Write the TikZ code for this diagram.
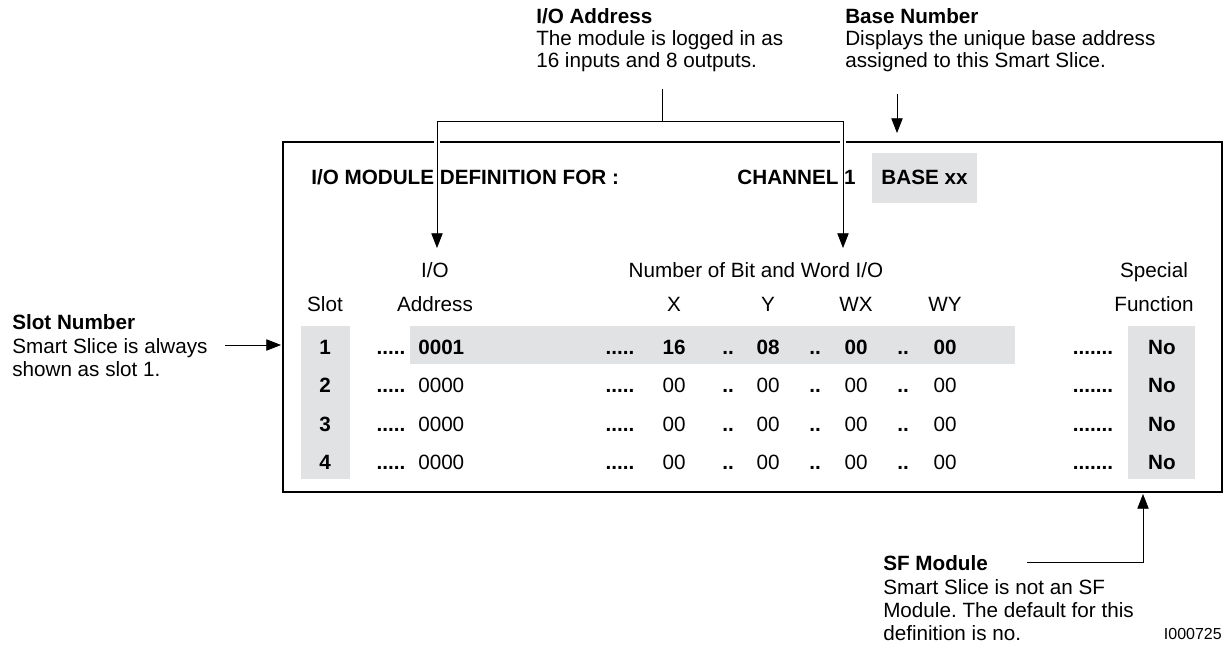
\documentclass[tikz,border=0pt]{standalone}
\usepackage{fontspec}
\setmainfont{Liberation Sans}
\usetikzlibrary{arrows.meta}
\definecolor{panelgray}{HTML}{E1E2E4}
\frenchspacing

\begin{document}
\begin{tikzpicture}[
  x=0.75pt, y=-0.75pt,
  every node/.style={inner sep=0pt, anchor=base, font=\fontsize{15.5}{17.5}\selectfont},
  value/.style={font=\fontsize{15.5}{17.5}\selectfont\bfseries},
  note/.style={anchor=north west, align=left},
  topnote/.style={note, font=\fontsize{15.5}{16.5}\selectfont},
  pointer/.style={-{Triangle[length=11pt, width=8.5pt]}, line width=0.6pt},
  frame/.style={line width=2pt},
  halo/.style={white, line width=4.5pt}
]
\useasboundingbox[fill=white] (0,0) rectangle (1232,645);

% shaded fields
\fill[panelgray] (872,153) rectangle (977,203);
\fill[panelgray] (301,326) rectangle (350,479);
\fill[panelgray] (410,326) rectangle (1015,364);
\fill[panelgray] (1128,326) rectangle (1195,479);

% screen frame
\draw[frame] (283,142) rectangle (1222,492);
\coordinate (slottip) at (281,345);
\coordinate (sftip) at (1143,494);

% callouts
\node[topnote] (ionote) at (536,8) {\textbf{I/O Address}\\The module is logged in as\\16 inputs and 8 outputs.};
\node[topnote] (basenote) at (845,8) {\textbf{Base Number}\\Displays the unique base address\\assigned to this Smart Slice.};
\node[note] (slotnote) at (12,314.5) {\textbf{Slot Number}\\Smart Slice is always\\shown as slot 1.};
\node[note] (sfnote) at (883,555.5) {\textbf{SF Module}\\Smart Slice is not an SF\\Module. The default for this\\definition is no.};
\node[anchor=base east, font=\fontsize{12}{14}\selectfont] (figid) at (1222,639) {I000725};

% title line
\node[value, anchor=base west] (title) at (311,184.4) {I/O MODULE DEFINITION FOR :};
\node[value, anchor=base east] (chan) at (856,184.4) {CHANNEL 1};
\node[value] (base) at (924.5,184.4) {BASE xx};

% column heads
\node (hio) at (435,277.4) {I/O};
\node (hnum) at (756,277.4) {Number of Bit and Word I/O};
\node (hspec) at (1154,277.4) {Special};
\node (hslot) at (325,311.4) {Slot};
\node (haddr) at (435,311.4) {Address};
\node (hx) at (674,311.4) {X};
\node (hy) at (768,311.4) {Y};
\node (hwx) at (856,311.4) {WX};
\node (hwy) at (945,311.4) {WY};
\node (hfunc) at (1154,311.4) {Function};

% slot 1
\node[value] (s1) at (325,354.4) {1};
\node[value] (s1d) at (391,354.4) {.....};
\node[value, anchor=base west] (s1a) at (418,354.4) {0001};
\node[value] (s1xd) at (620,354.4) {.....};
\node[value] (s1x) at (674,354.4) {16};
\node[value] (s1yd) at (728,354.4) {..};
\node[value] (s1y) at (768,354.4) {08};
\node[value] (s1wxd) at (815,354.4) {..};
\node[value] (s1wx) at (856,354.4) {00};
\node[value] (s1wyd) at (903,354.4) {..};
\node[value] (s1wy) at (945,354.4) {00};
\node[value] (s1fd) at (1093,354.4) {.......};
\node[value] (s1f) at (1162,354.4) {No};

% slot 2
\node[value] (s2) at (325,392.9) {2};
\node[value] (s2d) at (391,392.9) {.....};
\node[anchor=base west] (s2a) at (418,392.9) {0000};
\node[value] (s2xd) at (620,392.9) {.....};
\node (s2x) at (674,392.9) {00};
\node[value] (s2yd) at (728,392.9) {..};
\node (s2y) at (768,392.9) {00};
\node[value] (s2wxd) at (815,392.9) {..};
\node (s2wx) at (856,392.9) {00};
\node[value] (s2wyd) at (903,392.9) {..};
\node (s2wy) at (945,392.9) {00};
\node[value] (s2fd) at (1093,392.9) {.......};
\node[value] (s2f) at (1162,392.9) {No};

% slot 3
\node[value] (s3) at (325,431.4) {3};
\node[value] (s3d) at (391,431.4) {.....};
\node[anchor=base west] (s3a) at (418,431.4) {0000};
\node[value] (s3xd) at (620,431.4) {.....};
\node (s3x) at (674,431.4) {00};
\node[value] (s3yd) at (728,431.4) {..};
\node (s3y) at (768,431.4) {00};
\node[value] (s3wxd) at (815,431.4) {..};
\node (s3wx) at (856,431.4) {00};
\node[value] (s3wyd) at (903,431.4) {..};
\node (s3wy) at (945,431.4) {00};
\node[value] (s3fd) at (1093,431.4) {.......};
\node[value] (s3f) at (1162,431.4) {No};

% slot 4
\node[value] (s4) at (325,469.9) {4};
\node[value] (s4d) at (391,469.9) {.....};
\node[anchor=base west] (s4a) at (418,469.9) {0000};
\node[value] (s4xd) at (620,469.9) {.....};
\node (s4x) at (674,469.9) {00};
\node[value] (s4yd) at (728,469.9) {..};
\node (s4y) at (768,469.9) {00};
\node[value] (s4wxd) at (815,469.9) {..};
\node (s4wx) at (856,469.9) {00};
\node[value] (s4wyd) at (903,469.9) {..};
\node (s4wy) at (945,469.9) {00};
\node[value] (s4fd) at (1093,469.9) {.......};
\node[value] (s4f) at (1162,469.9) {No};

% pointers
\coordinate (iofoot) at (662,89);
\coordinate (iojoin) at (662,121);
\coordinate (addrtip) at (437,248);
\coordinate (numtip) at (843,248);
\coordinate (basefoot) at (897,94);
\coordinate (basetip) at (897,133);
\coordinate (slotfoot) at (225,345);
\coordinate (sffoot) at (1027,562);

\draw[halo] (437,136) -- (437,148);
\draw[halo] (843,136) -- (843,148);
\draw[line width=0.6pt] (iofoot) -- (iojoin);
\draw[pointer] (iojoin) -| (addrtip);
\draw[pointer] (iojoin) -| (numtip);
\draw[pointer] (basefoot) -- (basetip);
\draw[pointer] (slotfoot) -- (slottip);
\draw[pointer] (sffoot) -| (sftip);

\end{tikzpicture}
\end{document}
